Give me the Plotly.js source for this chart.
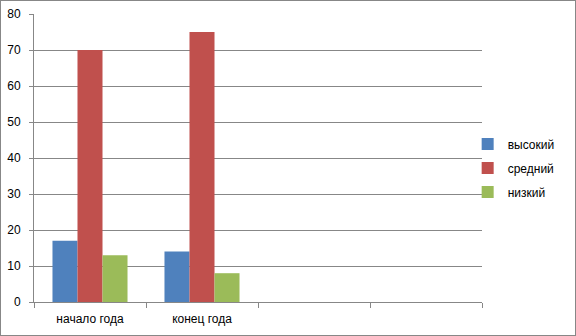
<!DOCTYPE html>
<html>
<head>
<meta charset="utf-8">
<script src="https://cdn.plot.ly/plotly-3.0.1.min.js"></script>
<style>
html,body{margin:0;padding:0;background:#fff;}
#chart{width:576px;height:336px;box-sizing:border-box;border:1px solid #878787;}
</style>
</head>
<body>
<div id="chart"></div>
<script>
const categories = ['начало года', 'конец года', ' ', '  '];
const seriesNames = ['высокий', 'средний', 'низкий'];
const high = [17, 14, null, null];
const mid = [70, 75, null, null];
const low = [13, 8, null, null];
const colors = ['#4F81BD', '#C0504D', '#9BBB59'];
const yTicks = [0, 10, 20, 30, 40, 50, 60, 70, 80];

const values = [high, mid, low];
const traces = values.map((v, i) => ({
  type: 'bar',
  x: categories,
  y: v,
  name: seriesNames[i],
  legendgroup: 'g' + i,
  marker: {color: colors[i], line: {width: 0}},
  hoverinfo: 'none'
}));

const font = {family: 'Liberation Sans, Arial, sans-serif', size: 12, color: '#000'};
const layout = {
  width: 574,
  height: 334,
  margin: {l: 33, r: 93, t: 13, b: 33},
  paper_bgcolor: '#fff',
  plot_bgcolor: '#fff',
  barmode: 'group',
  bargap: 0.33,
  bargroupgap: 0,
  font: font,
  showlegend: true,
  legend: {
    x: 0.968, xanchor: 'left', y: 0.465, yanchor: 'middle',
    font: font, tracegroupgap: 5, traceorder: 'grouped',
    bgcolor: 'rgba(0,0,0,0)', borderwidth: 0
  },
  xaxis: {
    type: 'category',
    categoryarray: categories,
    tickson: 'boundaries',
    ticks: 'outside', ticklen: 5, tickcolor: '#878787', tickwidth: 1,
    showline: true, linecolor: '#878787', linewidth: 1,
    showgrid: false, zeroline: false,
    tickfont: font,
    ticklabelstandoff: 6,
    automargin: false,
    fixedrange: true
  },
  yaxis: {
    range: [0, 80],
    tickvals: yTicks,
    ticks: 'outside', ticklen: 4, tickcolor: '#878787', tickwidth: 1,
    showline: true, linecolor: '#878787', linewidth: 1,
    showgrid: true, gridcolor: '#878787', gridwidth: 1,
    zeroline: false,
    tickfont: font,
    ticklabelstandoff: 6,
    automargin: false,
    fixedrange: true
  }
};

Plotly.newPlot('chart', traces, layout, {displayModeBar: false, staticPlot: true});
</script>
</body>
</html>
